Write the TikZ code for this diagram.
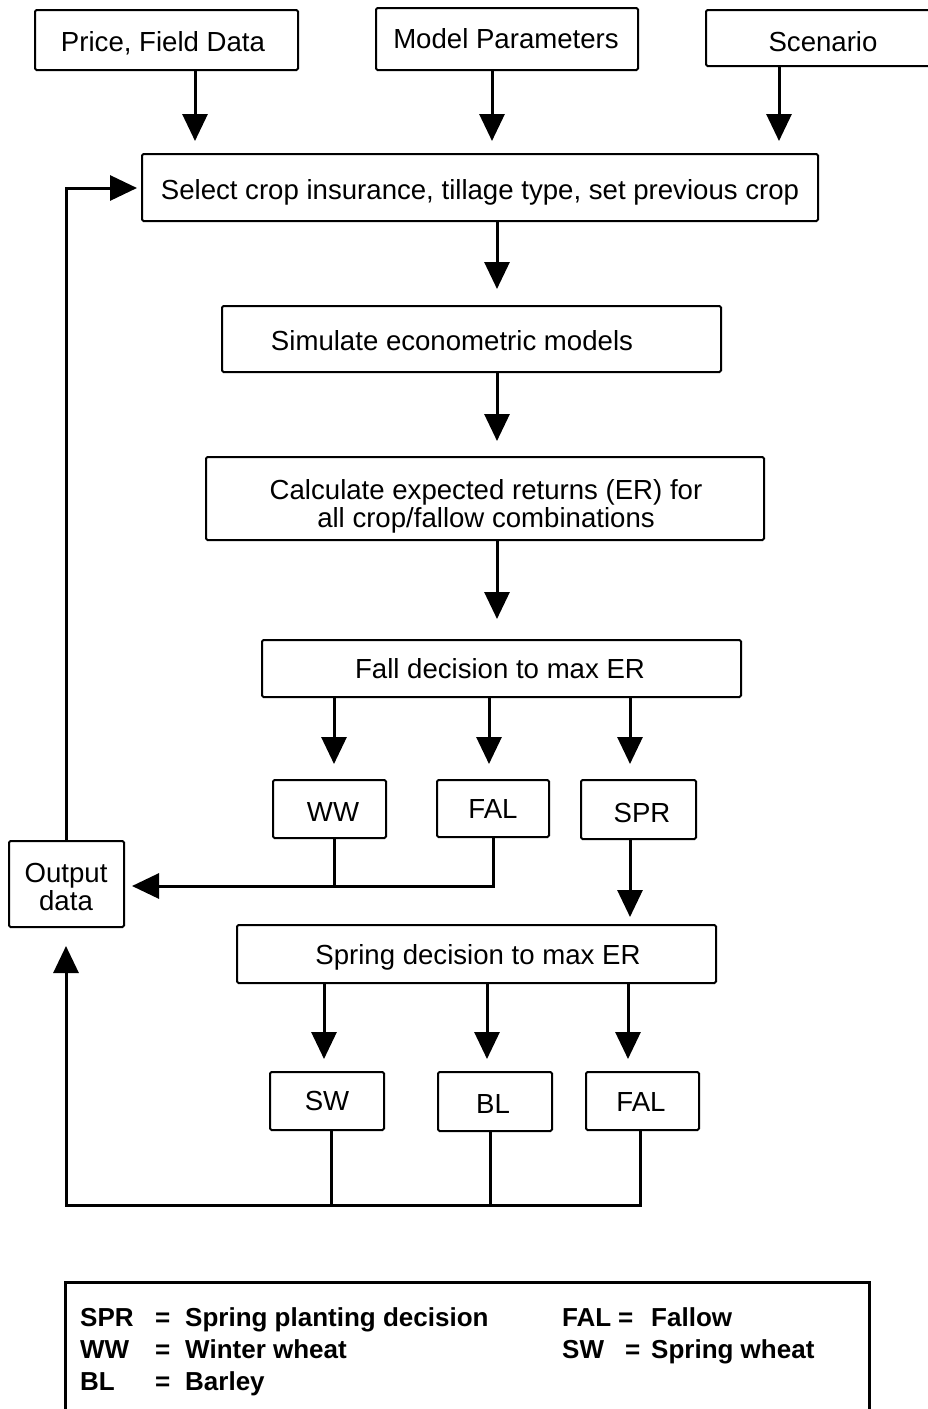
\documentclass[tikz,border=0pt]{standalone}
\usepackage{fontspec}
\setmainfont{Liberation Sans}
\usetikzlibrary{arrows.meta}
\begin{document}
\begin{tikzpicture}[x=1pt,y=-1pt,
  box/.style={draw, line width=2pt, rounded corners=1.5pt, inner sep=0pt},
  lbl/.style={font=\fontsize{27.6}{28}\selectfont, inner sep=0pt, align=center, text height=20pt, text depth=0pt},
  leg/.style={font=\bfseries\fontsize{26}{28}\selectfont, inner sep=0pt, anchor=base west},
  conn/.style={line width=3pt},
  arr/.style={conn, -{Triangle[length=27pt,width=25pt]}},
]
\clip (0,0) rectangle (928,1409);
\fill[white] (0,0) rectangle (928,1409);

% top input boxes
\node[box, minimum width=263pt, minimum height=60pt] (price) at (166.5,40) {};
\node[lbl] (priceT) at (163,41) {Price, Field Data};
\node[box, minimum width=262pt, minimum height=62pt] (model) at (507,39) {};
\node[lbl] (modelT) at (506,38) {Model Parameters};
\node[box, minimum width=260pt, minimum height=56pt] (scen) at (836,38) {};
\node[lbl] (scenT) at (823,41) {Scenario};

% main chain
\node[box, minimum width=676pt, minimum height=67pt] (select) at (480,187.5) {};
\node[lbl] (selectT) at (480,189) {Select crop insurance, tillage type, set previous crop};
\node[box, minimum width=499pt, minimum height=66pt] (sim) at (471.5,339) {};
\node[lbl] (simT) at (452,340) {Simulate econometric models};
\node[box, minimum width=558pt, minimum height=83pt] (calc) at (485,498.5) {};
\node[lbl] (calcT) at (486,517) {Calculate expected returns (ER) for\\all crop/fallow combinations};
\node[box, minimum width=479pt, minimum height=57pt] (fall) at (501.5,668.5) {};
\node[lbl] (fallT) at (500,668) {Fall decision to max ER};

% fall outcomes
\node[box, minimum width=113pt, minimum height=58pt] (ww) at (329.5,809) {};
\node[lbl] (wwT) at (333,811) {WW};
\node[box, minimum width=112pt, minimum height=57pt] (fal) at (493,808.5) {};
\node[lbl] (falT) at (493,808) {FAL};
\node[box, minimum width=115pt, minimum height=59pt] (spr) at (638.5,809.5) {};
\node[lbl] (sprT) at (642,812) {SPR};

% output
\node[box, minimum width=115pt, minimum height=86pt] (out) at (66.5,884) {};
\node[lbl] (outT) at (66,900) {Output\\data};

% spring
\node[box, minimum width=479pt, minimum height=58pt] (spring) at (476.5,954) {};
\node[lbl] (springT) at (478,954) {Spring decision to max ER};
\node[box, minimum width=114pt, minimum height=58pt] (sw) at (327,1101) {};
\node[lbl] (swT) at (327,1100) {SW};
\node[box, minimum width=114pt, minimum height=59pt] (bl) at (495,1101.5) {};
\node[lbl] (blT) at (493,1103) {BL};
\node[box, minimum width=113pt, minimum height=58pt] (fal2) at (642.5,1101) {};
\node[lbl] (fal2T) at (641,1101) {FAL};

% connectors
\draw[arr, shorten >=12pt] (195,0 |- price.south) -- (195,0 |- select.north);
\draw[arr, shorten >=12pt] (492,0 |- model.south) -- (492,0 |- select.north);
\draw[arr, shorten >=12pt] (779,0 |- scen.south) -- (779,0 |- select.north);
\draw[arr, shorten >=16pt] (497,0 |- select.south) -- (497,0 |- sim.north);
\draw[arr, shorten >=15pt] (497,0 |- sim.south) -- (497,0 |- calc.north);
\draw[arr, shorten >=20pt] (497,0 |- calc.south) -- (497,0 |- fall.north);
\draw[arr, shorten >=15pt] (334,0 |- fall.south) -- (334,0 |- ww.north);
\draw[arr, shorten >=15pt] (489,0 |- fall.south) -- (489,0 |- fal.north);
\draw[arr, shorten >=15pt] (630,0 |- fall.south) -- (630,0 |- spr.north);

\draw[conn] (334,0 |- ww.south) -- (334,886);
\draw[arr, shorten >=7pt] (493,0 |- fal.south) -- (493,886) -- (out.east |- 0,886);

\draw[arr, shorten >=7pt] (630,0 |- spr.south) -- (630,0 |- spring.north);
\draw[arr, shorten >=12pt] (324,0 |- spring.south) -- (324,0 |- sw.north);
\draw[arr, shorten >=12pt] (487,0 |- spring.south) -- (487,0 |- bl.north);
\draw[arr, shorten >=12pt] (628,0 |- spring.south) -- (628,0 |- fal2.north);

\draw[conn] (331,0 |- sw.south) -- (331,1205);
\draw[conn] (490,0 |- bl.south) -- (490,1205);
\draw[arr, shorten >=18pt] (640,0 |- fal2.south) -- (640,1205) -- (66,1205) -- (66,0 |- out.south);

\draw[arr, shorten >=4pt] (66,0 |- out.north) -- (66,188) -- (select.west |- 0,188);

% legend
\node[draw, line width=2.5pt, minimum width=804pt, minimum height=160pt, inner sep=0pt, anchor=north west] (legend) at (64,1281) {};
\node[leg] (l1a) at (80,1326) {SPR};
\node[leg] (l1b) at (155,1326) {=};
\node[leg] (l1c) at (185,1326) {Spring planting decision};
\node[leg] (l2a) at (80,1358) {WW};
\node[leg] (l2b) at (155,1358) {=};
\node[leg] (l2c) at (185,1358) {Winter wheat};
\node[leg] (l3a) at (80,1390) {BL};
\node[leg] (l3b) at (155,1390) {=};
\node[leg] (l3c) at (185,1390) {Barley};
\node[leg] (l4a) at (562,1326) {FAL};
\node[leg] (l4b) at (618,1326) {=};
\node[leg] (l4c) at (651,1326) {Fallow};
\node[leg] (l5a) at (562,1358) {SW};
\node[leg] (l5b) at (625,1358) {=};
\node[leg] (l5c) at (651,1358) {Spring wheat};
\end{tikzpicture}
\end{document}
